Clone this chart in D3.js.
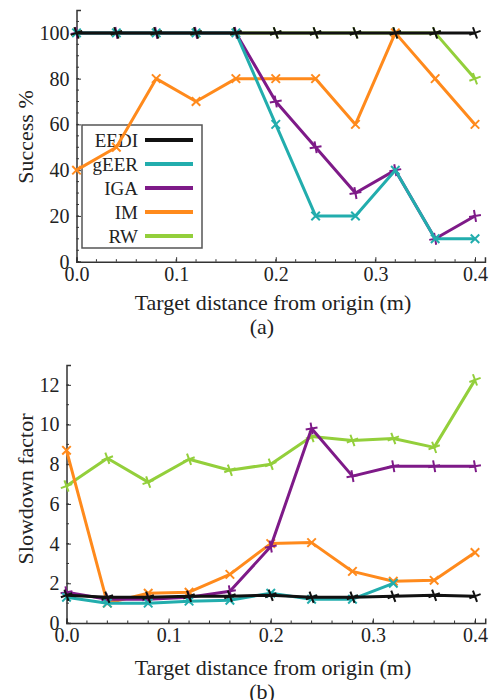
<!DOCTYPE html>
<html>
<head>
<meta charset="utf-8">
<script src="https://cdn.jsdelivr.net/npm/d3@7"></script>
<style>
  body { margin: 0; background: #fff; }
  text { font-family: "Liberation Serif", "DejaVu Serif", serif; fill: #222; }
</style>
</head>
<body id="body">
<svg id="chart" width="490" height="700"></svg>
<script>
// distances (m)
var distances = [0, 0.04, 0.08, 0.12, 0.16, 0.2, 0.24, 0.28, 0.32, 0.36, 0.4];

var seriesNames = ["EEDI", "gEER", "IGA", "IM", "RW"];
var seriesColours = ["#111111", "#22adad", "#7e1a88", "#ff8a1c", "#93cf3b"];
var markerAngle = [-20, 45, -10, 45, -20];

// (a) success %
var successEEDI = [100, 100, 100, 100, 100, 100, 100, 100, 100, 100, 100];
var successGEER = [100, 100, 100, 100, 100, 60, 20, 20, 40, 10, 10];
var successIGA  = [100, 100, 100, 100, 100, 70, 50, 30, 40, 10, 20];
var successIM   = [40, 50, 80, 70, 80, 80, 80, 60, 100, 80, 60];
var successRW   = [100, 100, 100, 100, 100, 100, 100, 100, 100, 100, 80];

// (b) slowdown factor
var slowEEDI = [1.4, 1.3, 1.3, 1.35, 1.35, 1.4, 1.3, 1.3, 1.35, 1.4, 1.35];
var slowGEER = [1.3, 1.0, 1.0, 1.1, 1.15, 1.5, 1.2, 1.2, 2.0, null, null];
var slowIGA  = [1.55, 1.2, 1.2, 1.3, 1.6, 3.85, 9.8, 7.4, 7.9, 7.9, 7.9];
var slowIM   = [8.7, 1.0, 1.5, 1.55, 2.45, 4.0, 4.05, 2.6, 2.1, 2.15, 3.55];
var slowRW   = [6.9, 8.3, 7.1, 8.25, 7.7, 8.0, 9.4, 9.2, 9.3, 8.85, 12.25];

var xTicks = [0, 0.1, 0.2, 0.3, 0.4];
var yTicksA = [0, 20, 40, 60, 80, 100];
var yTicksB = [0, 2, 4, 6, 8, 10, 12];

var svg = d3.select("#chart");

// legend box (drawn under the lines, like the original)
function drawLegend(g)
{
  var legend = g.append("g");
  legend.append("rect")
    .attr("x", 82).attr("y", 125).attr("width", 120).attr("height", 123)
    .attr("fill", "#fff").attr("stroke", "#555").attr("stroke-width", 1.5);
  var legendY = d3.scalePoint().domain(seriesNames).range([140, 236]);
  seriesNames.forEach(function(name, i) {
    legend.append("text")
      .attr("x", 138).attr("y", legendY(name) + 6.5)
      .attr("text-anchor", "end")
      .style("font-size", "19px")
      .text(name);
    legend.append("line")
      .attr("x1", 145).attr("x2", 193)
      .attr("y1", legendY(name)).attr("y2", legendY(name))
      .attr("stroke", seriesColours[i]).attr("stroke-width", 4);
  });
}

function drawPanel(cfg)
{
  var g = svg.append("g");
  var x = d3.scaleLinear().domain([0, 0.41]).range([cfg.left, cfg.left + (475 - cfg.left) * 0.41 / 0.4]);
  var y = d3.scaleLinear().domain([0, cfg.yMax]).range([cfg.bottom, cfg.top]);

  // minor ticks
  var minorX = d3.range(0, 0.41, 0.02);
  g.selectAll(".mx").data(minorX).enter().append("line")
    .attr("x1", d => x(d)).attr("x2", d => x(d))
    .attr("y1", cfg.bottom).attr("y2", cfg.bottom - 2.5)
    .attr("stroke", "#333").attr("stroke-width", 1);
  var minorY = d3.range(0, cfg.yMax, cfg.yMinor);
  g.selectAll(".my").data(minorY).enter().append("line")
    .attr("x1", cfg.left).attr("x2", cfg.left + 2.5)
    .attr("y1", d => y(d)).attr("y2", d => y(d))
    .attr("stroke", "#333").attr("stroke-width", 1);

  // axes, ticks inward
  var xAxis = g.append("g").attr("transform", "translate(0," + cfg.bottom + ")")
    .call(d3.axisBottom(x).tickValues(xTicks).tickSize(-4.5).tickPadding(5).tickFormat(d3.format(".1f")));
  var yAxis = g.append("g").attr("transform", "translate(" + cfg.left + ",0)")
    .call(d3.axisLeft(y).tickValues(cfg.yTicks).tickSize(-4.5).tickPadding(7));
  [xAxis, yAxis].forEach(function(a) {
    a.select(".domain").attr("stroke", "#333").attr("stroke-width", 1.5);
    a.selectAll(".tick line").attr("stroke", "#333");
    a.selectAll(".tick text").style("font-size", "20px").attr("fill", "#222")
      .style("font-family", '"Liberation Serif", serif');
  });

  if (cfg.legend) drawLegend(g);

  // series lines, EEDI drawn last so it sits on top
  var line = d3.line()
    .defined(d => d[1] != null)
    .x(d => x(d[0])).y(d => y(d[1]));

  for (var i = cfg.series.length - 1; i >= 0; i--) {
    var vals = cfg.series[i];
    var pts = distances.map((d, k) => [d, vals[k]]);
    g.append("path").datum(pts)
      .attr("d", line)
      .attr("fill", "none")
      .attr("stroke", seriesColours[i])
      .attr("stroke-width", 3)
      .attr("stroke-linejoin", "round");

    g.selectAll(".m" + i).data(pts.filter(p => p[1] != null)).enter()
      .append("path")
      .attr("d", "M-6,0L6,0M0,-6L0,6")
      .attr("transform", p => "translate(" + x(p[0]) + "," + y(p[1]) + ") rotate(" + markerAngle[i] + ")")
      .attr("stroke", seriesColours[i])
      .attr("stroke-width", 2);
  }

  // labels
  g.append("text")
    .attr("transform", "translate(" + cfg.yLabelX + "," + cfg.yLabelY + ") rotate(-90)")
    .attr("text-anchor", "middle")
    .style("font-size", "22px")
    .text(cfg.yLabel);
  g.append("text")
    .attr("x", 273).attr("y", cfg.xLabelY)
    .attr("text-anchor", "middle")
    .style("font-size", "22px")
    .text("Target distance from origin (m)");
  g.append("text")
    .attr("x", 262).attr("y", cfg.xLabelY + 24)
    .attr("text-anchor", "middle")
    .style("font-size", "22px")
    .text(cfg.caption);

  return g;
}

drawPanel({
  left: 76.5, top: 10, bottom: 261.7, yMax: 110, yMinor: 5, yTicks: yTicksA,
  series: [successEEDI, successGEER, successIGA, successIM, successRW], legend: true,
  yLabel: "Success %", yLabelX: 33, yLabelY: 137, xLabelY: 310, caption: "(a)"
});

drawPanel({
  left: 66.5, top: 365, bottom: 623, yMax: 13, yMinor: 1, yTicks: yTicksB,
  series: [slowEEDI, slowGEER, slowIGA, slowIM, slowRW], legend: false,
  yLabel: "Slowdown factor", yLabelX: 33, yLabelY: 489, xLabelY: 675, caption: "(b)"
});
</script>
</body>
</html>
